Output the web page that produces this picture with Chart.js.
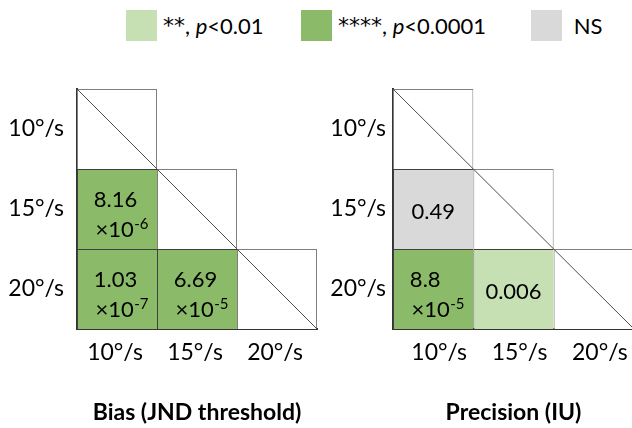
<!DOCTYPE html>
<html>
<head>
<meta charset="utf-8">
<script src="https://cdn.jsdelivr.net/npm/chart.js@4.4.1/dist/chart.umd.min.js"></script>
<style>
html, body { margin: 0; padding: 0; width: 632px; height: 428px; overflow: hidden; background: #fff; font-family: Lato, sans-serif; }
.item { position: absolute; top: 10px; height: 31px; display: flex; align-items: center; font-size: 22px; color: #000; white-space: nowrap; }
.box { display: inline-block; width: 31px; height: 31px; margin-right: 6px; }
.ast { font-family: 'DejaVu Sans', sans-serif; font-size: 22px; }
canvas { position: absolute; top: 0; }
</style>
</head>
<body>
<div class="item" style="left:126px"><span class="box" style="background:#c6e0b4"></span><span class="ast">**</span>,&nbsp;<i>p</i>&lt;0.01</div>
<div class="item" style="left:301px"><span class="box" style="background:#8bbb68"></span><span class="ast">****</span>,&nbsp;<i>p</i>&lt;0.0001</div>
<div class="item" style="left:531px"><span class="box" style="background:#d9d9d9"></span>&nbsp;NS</div>

<canvas id="graph_bias" width="320" height="428" style="left:0px"></canvas>
<canvas id="graph_precision" width="324" height="428" style="left:316px"></canvas>

<script>
/*------------------------------*/
/*            DATA              */
/*------------------------------*/
var speeds = ['10°/s', '15°/s', '20°/s']

// p values, row = speed on the y axis, column = speed on the x axis
var bias_p = [
    [null, null, null],
    [8.16e-6, null, null],
    [1.03e-7, 6.69e-5, null]
]
var precision_p = [
    [null, null, null],
    [0.49, null, null],
    [8.8e-5, 0.006, null]
]

var titles = ['Bias (JND threshold)', 'Precision (IU)']

var color_p4 = '#8bbb68'   // ****, p<0.0001
var color_p2 = '#c6e0b4'   // **, p<0.01
var color_ns = '#d9d9d9'   // NS

function cellColor(p) {
    if (p === null) return '#ffffff'
    if (p < 0.0001) return color_p4
    if (p < 0.01) return color_p2
    return color_ns
}

/*------------------------------*/
/*           PLUGINS            */
/*------------------------------*/
var diagonalPlugin = {
    id: 'diagonal',
    afterDatasetsDraw: function(chart) {
        var ctx = chart.ctx
        var x = chart.scales.x, y = chart.scales.y
        ctx.save()
        ctx.strokeStyle = '#4d4d4d'
        ctx.lineWidth = 1
        ctx.beginPath()
        ctx.moveTo(x.left, y.top)
        ctx.lineTo(x.right, y.bottom)
        ctx.stroke()
        ctx.restore()
    }
}

var cellTextPlugin = {
    id: 'cellText',
    afterDatasetsDraw: function(chart, args, opts) {
        var ctx = chart.ctx
        var pvals = opts.pvals
        ctx.save()
        ctx.fillStyle = '#000'
        chart.data.datasets.forEach(function(ds, r) {
            var meta = chart.getDatasetMeta(r)
            meta.data.forEach(function(bar, c) {
                if (c >= r) return
                var p = pvals[r][c]
                var b = bar.getProps(['x', 'y', 'base', 'width'], true)
                var top = Math.min(b.y, b.base)
                var h = Math.abs(b.base - b.y)
                var left = b.x - b.width / 2
                var w = b.width
                if (p < 0.001) {
                    var parts = p.toExponential().split('e')
                    ctx.font = '22px Lato'
                    ctx.textAlign = 'left'
                    ctx.textBaseline = 'middle'
                    ctx.fillText(parts[0], left + 0.21 * w, top + 0.39 * h)
                    ctx.textBaseline = 'alphabetic'
                    var base2 = top + 0.75 * h + 7.5
                    var x2 = left + 0.23 * w
                    ctx.fillText('×10', x2, base2)
                    var wMain = ctx.measureText('×10').width
                    ctx.font = '15px Lato'
                    ctx.fillText(parts[1], x2 + wMain + 0.5, base2 - 8)
                } else {
                    ctx.font = '22px Lato'
                    ctx.textAlign = 'center'
                    ctx.textBaseline = 'middle'
                    ctx.fillText(String(p), b.x, top + h / 2 + 3)
                }
            })
        })
        ctx.restore()
    }
}

/*------------------------------*/
/*        CONFIG BUILDER        */
/*------------------------------*/
function buildConfig(pvals, title, yPad, xLabelOffset, rightPad) {
    var datasets = speeds.map(function(s, r) {
        return {
            label: s,
            data: speeds.map(function(_, c) { return c <= r ? [r, r + 1] : null }),
            backgroundColor: speeds.map(function(_, c) { return c <= r ? cellColor(c < r ? pvals[r][c] : null) : 'transparent' }),
            borderColor: speeds.map(function(_, c) { return c < r ? '#404040' : '#808080' }),
            borderWidth: function(ctx) {
                return { top: 1, left: 1, right: ctx.dataIndex === r ? 1 : 0, bottom: 0 }
            },
            borderSkipped: false,
            inflateAmount: 0,
            barPercentage: 1,
            categoryPercentage: 1,
            grouped: false
        }
    })
    return {
        type: 'bar',
        data: { labels: speeds, datasets: datasets },
        plugins: [diagonalPlugin, cellTextPlugin],
        options: {
            responsive: false,
            animation: false,
            devicePixelRatio: 1,
            layout: { padding: { top: 89, left: 0, right: rightPad, bottom: 0 } },
            plugins: {
                legend: { display: false },
                tooltip: { enabled: false },
                cellText: { pvals: pvals }
            },
            scales: {
                x: {
                    type: 'category',
                    grid: { display: false, drawTicks: false },
                    border: { display: true, color: '#333333', width: 2 },
                    ticks: { color: '#000', font: { size: 23 }, padding: 10, labelOffset: xLabelOffset },
                    title: { display: true, text: title, color: '#000', font: { size: 23, weight: 'bold' }, padding: { top: 0, bottom: 2 } },
                    afterFit: function(scale) { scale.height = 99 }
                },
                y: {
                    type: 'linear',
                    min: 0,
                    max: 3,
                    reverse: true,
                    grid: { display: false, drawTicks: false },
                    border: { display: true, color: '#333333', width: 2 },
                    afterBuildTicks: function(scale) {
                        scale.ticks = speeds.map(function(_, i) { return { value: i + 0.5 } })
                    },
                    ticks: {
                        color: '#000',
                        font: { size: 23 },
                        padding: yPad,
                        callback: function(v) { return speeds[Math.floor(v)] }
                    },
                    afterFit: function(scale) { scale.width = 77 }
                }
            }
        }
    }
}

/*------------------------------*/
/*            DRAW              */
/*------------------------------*/
Chart.defaults.font.family = 'Lato'

function draw() {
    var ctx_bias = document.getElementById('graph_bias').getContext('2d')
    var graph_bias = new Chart(ctx_bias, buildConfig(bias_p, titles[0], 13, -2, 3))

    var ctx_precision = document.getElementById('graph_precision').getContext('2d')
    var graph_precision = new Chart(ctx_precision, buildConfig(precision_p, titles[1], 7, 6, 6))
}

if (document.fonts && document.fonts.load) {
    Promise.all([document.fonts.load('22px Lato'), document.fonts.load('bold 20px Lato')]).then(draw, draw)
} else {
    draw()
}
</script>
</body>
</html>
